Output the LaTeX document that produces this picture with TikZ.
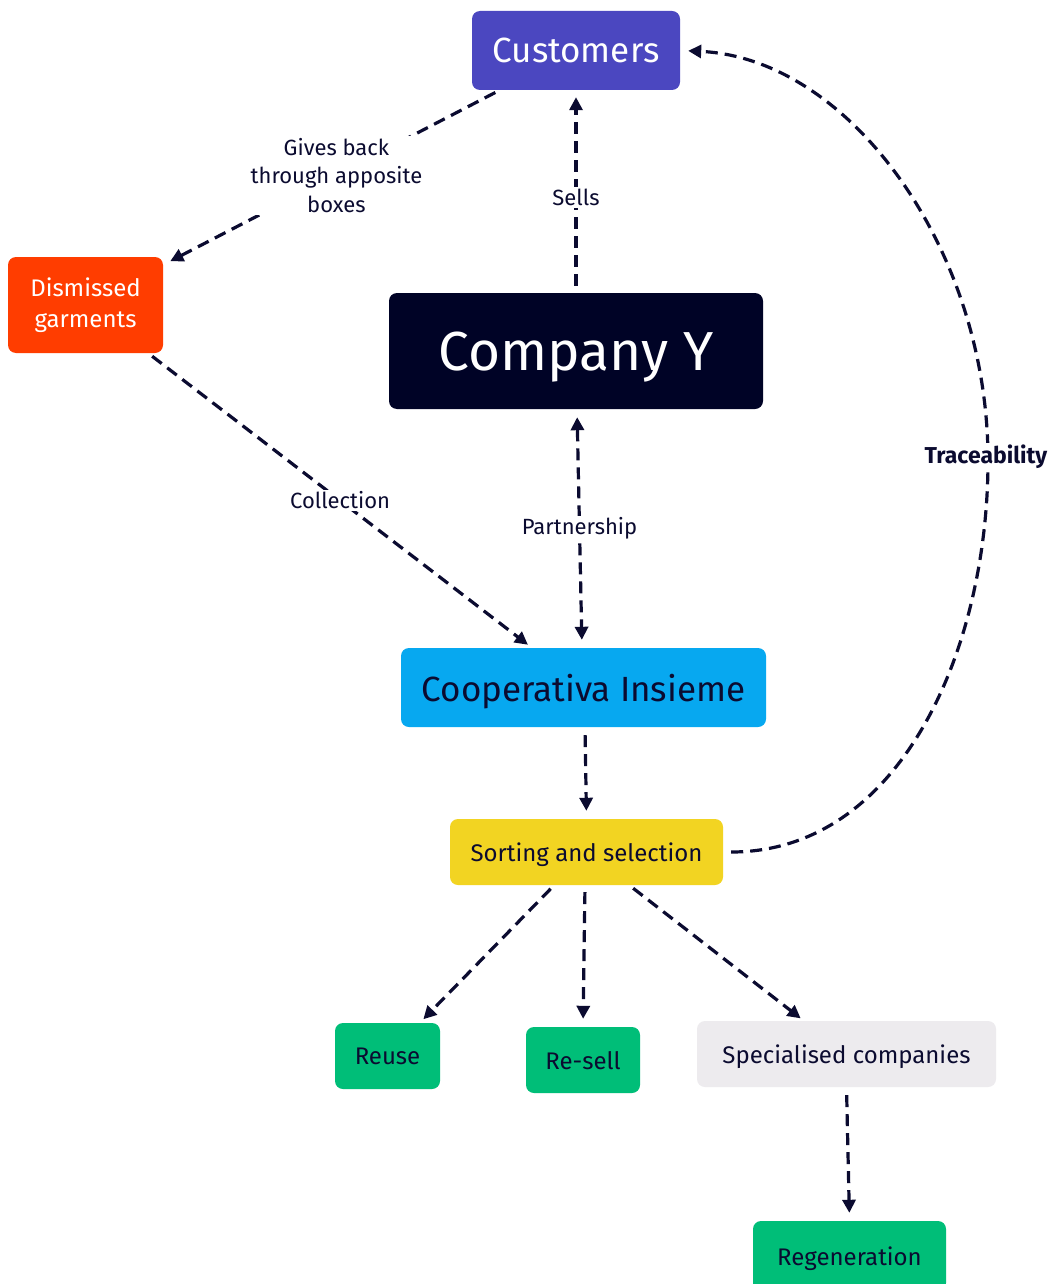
\documentclass[tikz,border=0pt]{standalone}
\usepackage{fontspec}
\setmainfont{Fira Sans}
\usetikzlibrary{arrows.meta}
\definecolor{ink}{HTML}{0B0B30}
\definecolor{custc}{HTML}{4B47C0}
\definecolor{disc}{HTML}{FF3D00}
\definecolor{compc}{HTML}{000326}
\definecolor{coopc}{HTML}{07A8F0}
\definecolor{sortc}{HTML}{F2D422}
\definecolor{greenc}{HTML}{00BE78}
\definecolor{specc}{HTML}{EDEBEE}
\tikzset{
  box/.style={rectangle, rounded corners=8pt, inner sep=0pt, align=center},
  onebox/.style={box, text depth=0pt},
  flow/.style={draw=ink, line width=3.2pt, dash pattern=on 12pt off 7pt, -{Triangle[length=13pt,width=13pt]}},
  lbl/.style={fill=white, text=ink, font=\fontsize{22}{28.5}\selectfont, align=center, inner sep=2pt},
}
\begin{document}
\begin{tikzpicture}[x=1pt,y=-1pt]
\useasboundingbox (0,0) rectangle (1053,1284);
\fill[white] (0,0) rectangle (1053,1284);
\node[onebox, fill=custc, text=white, minimum width=208pt, minimum height=79pt, font=\fontsize{35}{40}\selectfont] (cust) at (576,50.5) {Customers};
\node[box, fill=disc, text=white, minimum width=155pt, minimum height=96pt, font=\fontsize{24}{30.5}\selectfont] (dis) at (85.5,305) {Dismissed\\garments};
\node[onebox, fill=compc, text=white, minimum width=374pt, minimum height=116pt, font=\fontsize{55}{62}\selectfont] (comp) at (576,351) {Company Y};
\node[onebox, fill=coopc, text=ink, minimum width=365pt, minimum height=79pt, font=\fontsize{35}{40}\selectfont] (coop) at (583.5,687.5) {Cooperativa Insieme};
\node[onebox, fill=sortc, text=ink, minimum width=273pt, minimum height=66pt, font=\fontsize{24}{28}\selectfont] (sort) at (586.5,852) {Sorting and selection};
\node[onebox, fill=greenc, text=ink, minimum width=105pt, minimum height=66pt, font=\fontsize{24}{28}\selectfont] (reuse) at (387.5,1056) {Reuse};
\node[onebox, fill=greenc, text=ink, minimum width=114pt, minimum height=66pt, font=\fontsize{24}{28}\selectfont] (resell) at (583,1060) {Re-sell};
\node[onebox, fill=specc, text=ink, minimum width=299pt, minimum height=66pt, font=\fontsize{24}{28}\selectfont] (spec) at (846.5,1054) {Specialised companies};
\node[onebox, fill=greenc, text=ink, minimum width=193pt, minimum height=70pt, font=\fontsize{24}{28}\selectfont] (regen) at (849.5,1256) {Regeneration};

\draw[flow, shorten <=5pt, shorten >=8pt] (cust) -- node[lbl, midway, xshift=5pt, yshift=2pt] {Gives back\\through apposite\\boxes} (dis);
\draw[flow, shorten <=7pt, shorten >=7pt] (comp.north) -- node[lbl, pos=0.47] {Sells} (cust.south);
\draw[flow, {Triangle[length=13pt,width=13pt]}-{Triangle[length=13pt,width=13pt]}, shorten <=8pt, shorten >=8pt] ([xshift=1pt]comp.south) -- node[lbl, midway] {Partnership} ([xshift=-1.5pt]coop.north);
\draw[flow, shorten <=5pt, shorten >=5pt] (dis) -- node[lbl, midway] {Collection} (coop);
\draw[flow, shorten <=8pt, shorten >=8pt] ([xshift=1.5pt]coop.south) -- (sort.north);
\draw[flow, shorten <=5pt, shorten >=5pt] (sort) -- (reuse);
\draw[flow, shorten <=7pt, shorten >=8pt] ([xshift=-1.5pt]sort.south) -- (resell.north);
\draw[flow, shorten <=5pt, shorten >=4pt] (sort) -- (spec);
\draw[flow, shorten <=8pt, shorten >=8pt] (spec.south) -- (regen.north);
\coordinate (tr) at (988,460);
\draw[flow, shorten <=8pt, shorten >=8pt] (sort.east) .. controls (900,852) and (988,650) .. (tr) .. controls (988,250) and (850,58) .. (cust.east);
\node[lbl, font=\fontsize{23}{28}\selectfont\bfseries] (trl) at (986,457) {Traceability};
\end{tikzpicture}
\end{document}
